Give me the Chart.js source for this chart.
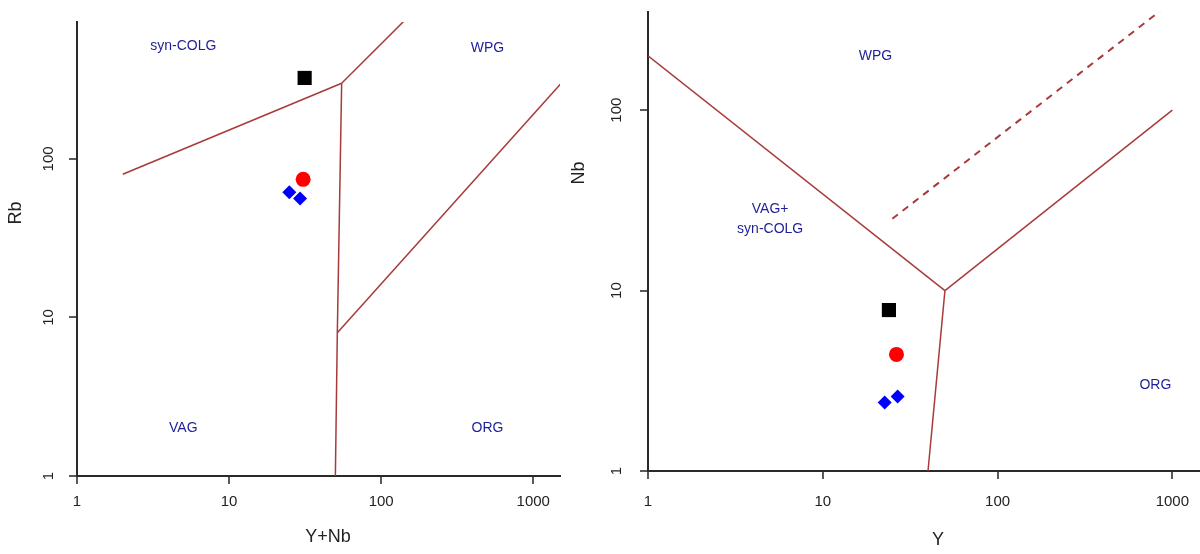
<!DOCTYPE html>
<html>
<head>
<meta charset="utf-8">
<script src="https://cdn.jsdelivr.net/npm/chart.js@4.4.0/dist/chart.umd.min.js"></script>
<style>
body{margin:0;background:#fff;width:1200px;height:554px;overflow:hidden;position:relative}
canvas{position:absolute;top:0}
#rbChart{left:0}
#nbChart{left:570px}
</style>
</head>
<body>
<canvas id="rbChart" width="600" height="554"></canvas>
<canvas id="nbChart" width="630" height="554"></canvas>
<script>
// samples: square, circle, two diamonds
var rbX = [31.4, 30.7, 24.9, 29.3];   // Y+Nb
var rbY = [324, 74.3, 61.7, 56.3];    // Rb
var nbX = [23.9, 26.4, 22.6, 26.8];   // Y
var nbY = [7.8, 4.43, 2.40, 2.59];    // Nb

var rbXTicks = [1, 10, 100, 1000];
var rbYTicks = [1, 10, 100];
var nbXTicks = [1, 10, 100, 1000];
var nbYTicks = [1, 10, 100];

// field boundaries (Pearce et al. 1984)
var rbLines = [
  [[2, 80], [55, 300]],
  [[55, 300], [400, 2000]],
  [[50, 1], [51.5, 8], [55, 300]],
  [[51.5, 8], [2000, 400]]
];
var nbLines = [
  [[1, 200], [50, 10]],
  [[50, 10], [1000, 100]],
  [[50, 10], [40, 1]]
];
var nbDashed = [[25, 25], [1000, 400]];

// field names
var rbFields = ['syn-COLG', 'WPG', 'VAG', 'ORG'];
var rbFieldX = [5, 500, 5, 500];
var rbFieldY = [513, 500, 2, 2];
var nbFields = ['WPG', 'VAG+\nsyn-COLG', 'ORG'];
var nbFieldX = [20, 5, 800];
var nbFieldY = [200, 25, 3];

var markerStyle = ['rect', 'circle', 'rectRot', 'rectRot'];
var markerColor = ['#000000', '#ff0000', '#0000ff', '#0000ff'];
var markerRadius = [10, 7.5, 7, 7];
var lineColor = '#a83a3a';
var FONT = '"Liberation Sans", Arial, sans-serif';

var textLayer = {
  id: 'textLayer',
  afterDraw: function(chart, args, o) {
    var ctx = chart.ctx, xs = chart.scales.x, ys = chart.scales.y;
    ctx.save();
    ctx.textAlign = 'center';
    ctx.textBaseline = 'middle';
    ctx.fillStyle = '#222';
    ctx.font = '15px ' + FONT;
    o.xTicks.forEach(function(v) {
      ctx.fillText(String(v), xs.getPixelForValue(v), o.xTickY);
    });
    o.yTicks.forEach(function(v) {
      ctx.save();
      ctx.translate(o.yTickX, ys.getPixelForValue(v));
      ctx.rotate(-Math.PI / 2);
      ctx.fillText(String(v), 0, 0);
      ctx.restore();
    });
    ctx.font = '18px ' + FONT;
    ctx.fillText(o.xTitle, o.xTitlePos[0], o.xTitlePos[1]);
    ctx.save();
    ctx.translate(o.yTitlePos[0], o.yTitlePos[1]);
    ctx.rotate(-Math.PI / 2);
    ctx.fillText(o.yTitle, 0, 0);
    ctx.restore();
    // field labels
    ctx.fillStyle = '#1f1f96';
    ctx.font = '14px ' + FONT;
    o.names.forEach(function(n, i) {
      var px = xs.getPixelForValue(o.nx[i]), py = ys.getPixelForValue(o.ny[i]);
      var parts = n.split('\n');
      parts.forEach(function(p, j) {
        ctx.fillText(p, px, py + (j - (parts.length - 1) / 2) * 20);
      });
    });
    ctx.restore();
  }
};

function logAxis(min, max, ticks, size, horizontal) {
  return {
    type: 'logarithmic', min: min, max: max,
    afterBuildTicks: function(s) { s.ticks = ticks.map(function(v) { return {value: v}; }); },
    afterFit: function(s) {
      if (horizontal) { s.height = size; s.paddingLeft = 0; s.paddingRight = 0; }
      else { s.width = size; s.paddingTop = 0; s.paddingBottom = 0; }
    },
    ticks: {display: false},
    title: {display: false},
    grid: {drawOnChartArea: false, drawTicks: true, tickLength: 8, color: '#5a5a5a', lineWidth: 2},
    border: {display: true, color: '#2a2a2a', width: 2}
  };
}

function buildDatasets(xs, ys, lines, dashed) {
  var ds = [];
  lines.forEach(function(l) {
    ds.push({
      data: l.map(function(p) { return {x: p[0], y: p[1]}; }),
      showLine: true, pointRadius: 0, borderColor: lineColor, borderWidth: 1.5
    });
  });
  if (dashed) {
    ds.push({
      data: dashed.map(function(p) { return {x: p[0], y: p[1]}; }),
      showLine: true, pointRadius: 0, borderColor: lineColor, borderWidth: 2, borderDash: [7, 6]
    });
  }
  xs.forEach(function(x, i) {
    ds.push({
      data: [{x: x, y: ys[i]}],
      pointStyle: markerStyle[i], pointRadius: markerRadius[i],
      backgroundColor: markerColor[i], borderColor: markerColor[i], borderWidth: 0
    });
  });
  return ds;
}

new Chart(document.getElementById('rbChart'), {
  type: 'scatter',
  data: {datasets: buildDatasets(rbX, rbY, rbLines, null)},
  options: {
    responsive: false, animation: false, devicePixelRatio: 1,
    layout: {autoPadding: false, padding: {left: 0, right: 40, top: 22, bottom: 0}},
    scales: {
      x: logAxis(1, 1500, rbXTicks, 78, true),
      y: logAxis(1, 730, rbYTicks, 77, false)
    },
    plugins: {
      legend: {display: false}, tooltip: {enabled: false},
      textLayer: {
        xTicks: rbXTicks, yTicks: rbYTicks, xTickY: 502, yTickX: 49,
        xTitle: 'Y+Nb', xTitlePos: [328, 537], yTitle: 'Rb', yTitlePos: [16, 213],
        names: rbFields, nx: rbFieldX, ny: rbFieldY
      }
    }
  },
  plugins: [textLayer]
});

new Chart(document.getElementById('nbChart'), {
  type: 'scatter',
  data: {datasets: buildDatasets(nbX, nbY, nbLines, nbDashed)},
  options: {
    responsive: false, animation: false, devicePixelRatio: 1,
    layout: {autoPadding: false, padding: {left: 0, right: 0, top: 12, bottom: 0}},
    scales: {
      x: logAxis(1, 1440, nbXTicks, 83, true),
      y: logAxis(1, 350, nbYTicks, 78, false)
    },
    plugins: {
      legend: {display: false}, tooltip: {enabled: false},
      textLayer: {
        xTicks: nbXTicks, yTicks: nbYTicks, xTickY: 502, yTickX: 47,
        xTitle: 'Y', xTitlePos: [368, 540], yTitle: 'Nb', yTitlePos: [9, 173],
        names: nbFields, nx: nbFieldX, ny: nbFieldY
      }
    }
  },
  plugins: [textLayer]
});
</script>
</body>
</html>
